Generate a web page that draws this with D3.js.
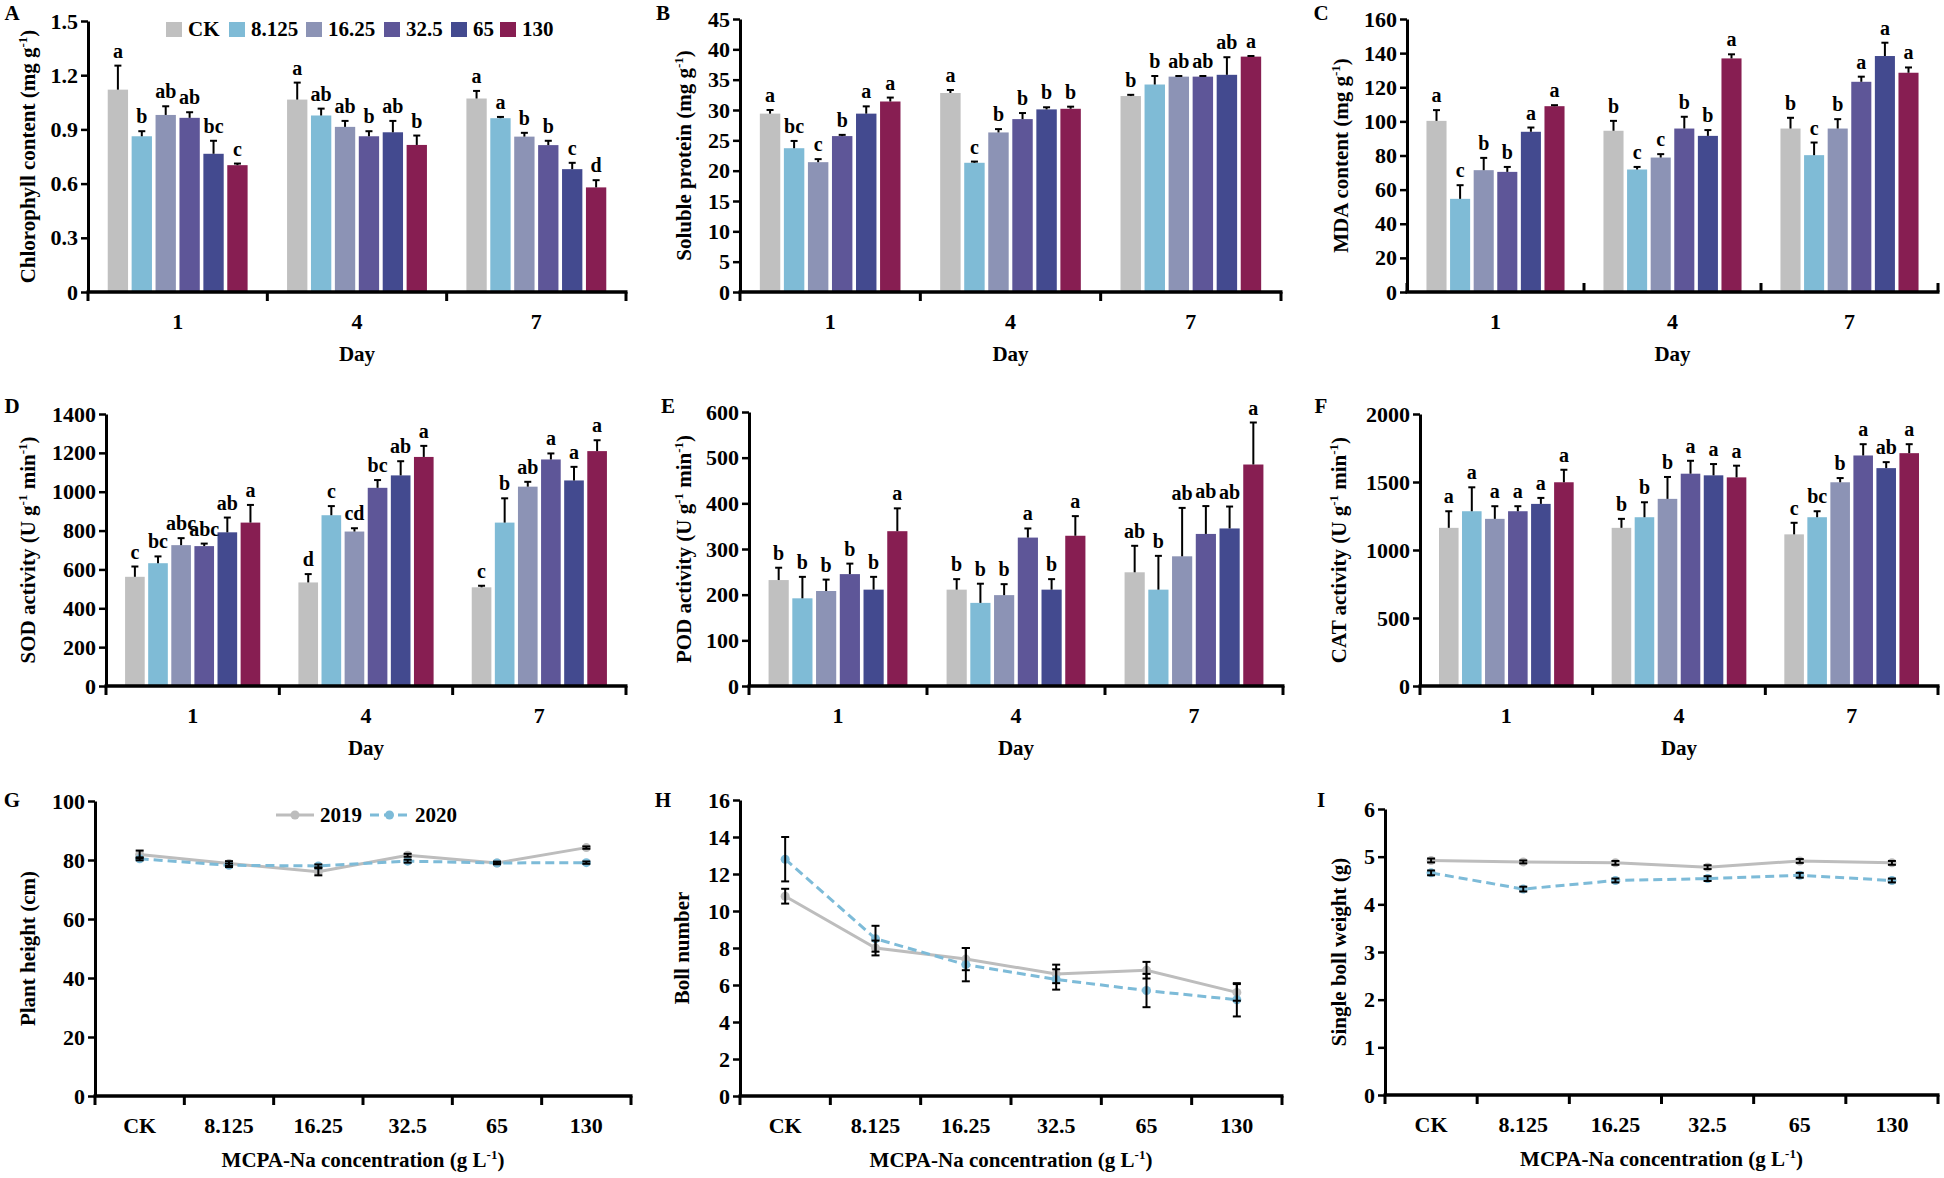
<!DOCTYPE html>
<html><head><meta charset="utf-8">
<script src="https://cdn.jsdelivr.net/npm/d3@7/dist/d3.min.js"></script>
<style>
body{margin:0;background:#fff}
svg text{font-family:"Liberation Serif","Times New Roman",serif;font-weight:bold;fill:#000}
</style></head><body>
<svg id="chart" width="1944" height="1178"></svg>
<script>
// ---------- categories ----------
const days = ["1", "4", "7"];
const treatments = ["CK", "8.125", "16.25", "32.5", "65", "130"];
const treatmentColors = ["#c0c0c0", "#7fbbd6", "#8c93b5", "#5e5698", "#434a8f", "#871e52"];
const years = ["2019", "2020"];
const yearColors = ["#bdbdbd", "#7dbbd8"];

// ---------- A: chlorophyll ----------
const chlMean = [[1.12, 0.862, 0.98, 0.964, 0.765, 0.702], [1.065, 0.977, 0.914, 0.862, 0.884, 0.814], [1.071, 0.962, 0.86, 0.813, 0.68, 0.579]];
const chlErr = [[0.133, 0.028, 0.048, 0.031, 0.072, 0.009], [0.094, 0.038, 0.033, 0.028, 0.063, 0.052], [0.042, 0.007, 0.021, 0.024, 0.035, 0.04]];
const chlSig = [["a", "b", "ab", "ab", "bc", "c"], ["a", "ab", "ab", "b", "ab", "b"], ["a", "a", "b", "b", "c", "d"]];
// ---------- B: soluble protein ----------
const proMean = [[29.4, 23.7, 21.4, 25.7, 29.4, 31.4], [32.8, 21.3, 26.3, 28.5, 30.1, 30.2], [32.3, 34.2, 35.5, 35.5, 35.8, 38.8]];
const proErr = [[0.6, 1.2, 0.5, 0.2, 1.2, 0.65], [0.5, 0.2, 0.55, 1.0, 0.35, 0.35], [0.2, 1.4, 0.1, 0.1, 2.9, 0.1]];
const proSig = [["a", "bc", "c", "b", "a", "a"], ["a", "c", "b", "b", "b", "b"], ["b", "b", "ab", "ab", "ab", "a"]];
// ---------- C: MDA ----------
const mdaMean = [[100.3, 54.6, 71.4, 70.4, 93.9, 108.9], [94.5, 71.8, 78.8, 95.8, 91.5, 136.9], [95.8, 80.2, 95.8, 123.2, 138.3, 128.5]];
const mdaErr = [[6.3, 8.0, 7.2, 2.9, 2.5, 0.6], [5.8, 1.5, 2.0, 6.9, 3.4, 2.4], [6.3, 7.4, 5.5, 3.0, 7.8, 3.1]];
const mdaSig = [["a", "c", "b", "b", "a", "a"], ["b", "c", "c", "b", "b", "a"], ["b", "c", "b", "a", "a", "a"]];
// ---------- D: SOD ----------
const sodMean = [[562, 632, 725, 720, 791, 841], [533, 879, 795, 1020, 1084, 1179], [508, 841, 1026, 1166, 1058, 1209]];
const sodErr = [[53, 35, 36, 13, 76, 91], [43, 47, 17, 40, 73, 57], [8, 125, 25, 31, 70, 56]];
const sodSig = [["c", "bc", "abc", "abc", "ab", "a"], ["d", "c", "cd", "bc", "ab", "a"], ["c", "b", "ab", "a", "a", "a"]];
// ---------- E: POD ----------
const podMean = [[232, 192, 208, 245, 211, 339], [211, 182, 199, 325, 211, 329], [249, 211, 284, 333, 345, 485]];
const podErr = [[27, 47, 25, 23, 28, 50], [23, 42, 24, 20, 23, 43], [58, 74, 106, 61, 48, 92]];
const podSig = [["b", "b", "b", "b", "b", "a"], ["b", "b", "b", "a", "b", "a"], ["ab", "b", "ab", "ab", "ab", "a"]];
// ---------- F: CAT ----------
const catMean = [[1163, 1285, 1229, 1285, 1339, 1498], [1163, 1241, 1376, 1561, 1549, 1534], [1115, 1241, 1498, 1695, 1602, 1712]];
const catErr = [[122, 176, 93, 37, 44, 92], [66, 110, 161, 95, 83, 86], [85, 44, 31, 83, 44, 66]];
const catSig = [["a", "a", "a", "a", "a", "a"], ["b", "b", "b", "a", "a", "a"], ["c", "bc", "b", "a", "ab", "a"]];
// ---------- G: plant height ----------
const height2019 = [81.9, 78.8, 76.0, 81.6, 79.0, 84.2];
const height2020 = [80.4, 78.2, 78.0, 79.6, 79.0, 79.1];
const heightErr2019 = [1.3, 0.8, 1.2, 0.5, 0.4, 0.4];
const heightErr2020 = [0.5, 0.6, 0.5, 0.5, 0.4, 0.4];
// ---------- H: boll number ----------
const boll2019 = [10.8, 8.0, 7.4, 6.6, 6.8, 5.6];
const boll2020 = [12.8, 8.5, 7.1, 6.3, 5.7, 5.2];
const bollErr2019 = [0.4, 0.4, 0.6, 0.5, 0.45, 0.45];
const bollErr2020 = [1.2, 0.7, 0.9, 0.55, 0.9, 0.9];
// ---------- I: single boll weight ----------
const weight2019 = [4.92, 4.89, 4.87, 4.78, 4.91, 4.87];
const weight2020 = [4.66, 4.32, 4.5, 4.54, 4.61, 4.5];
const weightErr2019 = [0.04, 0.03, 0.04, 0.04, 0.04, 0.04];
const weightErr2020 = [0.05, 0.05, 0.04, 0.05, 0.05, 0.04];

const svg = d3.select("#chart");
const SUP = s => ({sup: s});

function richText(sel, parts, size) {
  let shifted = false;
  parts.forEach(p => {
    if (typeof p === "string") {
      const t = sel.append("tspan").text(p);
      if (shifted) { t.attr("dy", size * 0.38); shifted = false; }
    } else {
      sel.append("tspan").text(p.sup).attr("font-size", size * 0.62).attr("dy", -size * 0.38);
      shifted = true;
    }
  });
}

function yAxis(g, y, ticks, fmt, x0) {
  const ax = g.append("g").attr("transform", `translate(${x0},0)`)
    .call(d3.axisLeft(y).tickValues(ticks).tickFormat(fmt).tickSize(7).tickSizeOuter(0).tickPadding(3));
  ax.attr("font-family", null).attr("font-size", null);
  ax.select(".domain").attr("stroke", "#000").attr("stroke-width", 3);
  ax.selectAll(".tick line").attr("stroke", "#000").attr("stroke-width", 2.5);
  ax.selectAll(".tick text").style("font-size", "22px");
}

function xAxisLine(g, x0, x1, yb, ticksX, dir) {
  g.append("line").attr("x1", x0 - 1.5).attr("x2", x1 + 1.5).attr("y1", yb).attr("y2", yb)
    .attr("stroke", "#000").attr("stroke-width", 3.5);
  g.selectAll(null).data(ticksX).join("line")
    .attr("x1", d => d).attr("x2", d => d).attr("y1", yb).attr("y2", yb + dir * 9)
    .attr("stroke", "#000").attr("stroke-width", 3);
}

function yTitleText(g, cx, cy, parts) {
  const t = g.append("text").attr("transform", `translate(${cx + 7},${cy}) rotate(-90)`)
    .attr("text-anchor", "middle").style("font-size", "21px");
  richText(t, parts, 21);
}

function panelLetter(g, x, y, s) {
  g.append("text").attr("x", x).attr("y", y).attr("text-anchor", "middle").style("font-size", "21px").text(s);
}

function drawBarPanel(p) {
  const g = svg.append("g");
  const y = d3.scaleLinear().domain([0, p.max]).range([p.yBot, p.yTop]);
  const xg = d3.scaleBand().domain(days).range([p.x0, p.x1]);
  const step = xg.bandwidth();
  const pad = step * 0.11;
  const xi = d3.scaleBand().domain(treatments).range([pad, step - pad]).paddingInner(0.15);
  const bw = xi.bandwidth();

  const rows = [];
  days.forEach((d, di) => treatments.forEach((t, ti) => rows.push({
    day: d, t, ti, v: p.means[di][ti], e: p.errs[di][ti], s: p.sig[di][ti]
  })));
  const cx = r => xg(r.day) + xi(r.t) + bw / 2;

  g.selectAll("rect.bar").data(rows).join("rect").attr("class", "bar")
    .attr("x", r => xg(r.day) + xi(r.t)).attr("width", bw)
    .attr("y", r => y(r.v)).attr("height", r => y(0) - y(r.v))
    .attr("fill", r => treatmentColors[r.ti]);
  g.selectAll("line.eb").data(rows).join("line").attr("class", "eb")
    .attr("x1", cx).attr("x2", cx).attr("y1", r => y(r.v)).attr("y2", r => y(r.v + r.e))
    .attr("stroke", "#000").attr("stroke-width", 2);
  g.selectAll("line.cap").data(rows).join("line").attr("class", "cap")
    .attr("x1", r => cx(r) - 3.5).attr("x2", r => cx(r) + 3.5)
    .attr("y1", r => y(r.v + r.e)).attr("y2", r => y(r.v + r.e))
    .attr("stroke", "#000").attr("stroke-width", 2);
  g.selectAll("text.sig").data(rows).join("text").attr("class", "sig")
    .attr("x", cx).attr("y", r => y(r.v + r.e) - 8).attr("text-anchor", "middle")
    .style("font-size", "20px").text(r => r.s);

  const ticks = d3.range(0, p.max + p.step / 2, p.step);
  yAxis(g, y, ticks, p.fmt, p.x0);
  xAxisLine(g, p.x0, p.x1, p.yBot, days.map(d => xg(d)).concat([p.x1]), p.tickDir);
  g.selectAll("text.day").data(days).join("text").attr("class", "day")
    .attr("x", d => xg(d) + step / 2).attr("y", p.yBot + 37).attr("text-anchor", "middle")
    .style("font-size", "22px").text(d => d);
  g.append("text").attr("x", (p.x0 + p.x1) / 2).attr("y", p.yBot + 69).attr("text-anchor", "middle")
    .style("font-size", "21px").text("Day");
  yTitleText(g, p.titleX, (p.yTop + p.yBot) / 2, p.title);
  panelLetter(g, p.labelX, p.labelY, p.id);

  if (p.legend) {
    const lg = g.append("g");
    const lx = [166, 229, 306, 384, 451, 500];
    treatments.forEach((t, i) => {
      lg.append("rect").attr("x", lx[i]).attr("y", 22).attr("width", 16).attr("height", 15).attr("fill", treatmentColors[i]);
      lg.append("text").attr("x", lx[i] + 22).attr("y", 36).style("font-size", "21px").text(t);
    });
  }
}

function drawLinePanel(p) {
  const g = svg.append("g");
  const y = d3.scaleLinear().domain([0, p.max]).range([p.yBot, p.yTop]);
  const xb = d3.scaleBand().domain(treatments).range([p.x0, p.x1]);
  const cxT = t => xb(t) + xb.bandwidth() / 2;
  const ticks = d3.range(0, p.max + p.step / 2, p.step);
  yAxis(g, y, ticks, d3.format("d"), p.x0);
  xAxisLine(g, p.x0, p.x1, p.yBot, treatments.map(t => xb(t)).concat([p.x1]), 1);
  g.selectAll("text.cat").data(treatments).join("text").attr("class", "cat")
    .attr("x", cxT).attr("y", p.yBot + 37).attr("text-anchor", "middle")
    .style("font-size", "22px").text(d => d);
  const xt = g.append("text").attr("x", (p.x0 + p.x1) / 2).attr("y", p.yBot + 71)
    .attr("text-anchor", "middle").style("font-size", "21px");
  richText(xt, ["MCPA-Na concentration (g L", SUP("-1"), ")"], 21);

  const series = [p.s2019, p.s2020];
  const errs = [p.e2019, p.e2020];
  const line = d3.line().x((v, i) => cxT(treatments[i])).y(v => y(v));
  series.forEach((s, k) => {
    g.append("path").datum(s).attr("d", line).attr("fill", "none")
      .attr("stroke", yearColors[k]).attr("stroke-width", 3)
      .attr("stroke-dasharray", k === 1 ? "9,5" : null);
    g.selectAll(null).data(s).join("circle")
      .attr("cx", (v, i) => cxT(treatments[i])).attr("cy", v => y(v)).attr("r", 4.5)
      .attr("fill", yearColors[k]);
  });
  series.forEach((s, k) => {
    const rows = s.map((v, i) => ({x: cxT(treatments[i]), v, e: errs[k][i]}));
    g.selectAll(null).data(rows).join("line")
      .attr("x1", r => r.x).attr("x2", r => r.x).attr("y1", r => y(r.v - r.e)).attr("y2", r => y(r.v + r.e))
      .attr("stroke", "#000").attr("stroke-width", 2);
    [-1, 1].forEach(sg => {
      g.selectAll(null).data(rows).join("line")
        .attr("x1", r => r.x - 4).attr("x2", r => r.x + 4)
        .attr("y1", r => y(r.v + sg * r.e)).attr("y2", r => y(r.v + sg * r.e))
        .attr("stroke", "#000").attr("stroke-width", 2);
    });
  });
  yTitleText(g, p.titleX, (p.yTop + p.yBot) / 2, p.title);
  panelLetter(g, p.labelX, p.labelY, p.id);

  if (p.legend) {
    const lg = g.append("g");
    const ly = 815;
    const items = [{x1: 276, x2: 314, tx: 320}, {x1: 370, x2: 409, tx: 415}];
    items.forEach((it, k) => {
      lg.append("line").attr("x1", it.x1).attr("x2", it.x2).attr("y1", ly).attr("y2", ly)
        .attr("stroke", yearColors[k]).attr("stroke-width", 3).attr("stroke-dasharray", k === 1 ? "9,5" : null);
      lg.append("circle").attr("cx", (it.x1 + it.x2) / 2).attr("cy", ly).attr("r", 4.5).attr("fill", yearColors[k]);
      lg.append("text").attr("x", it.tx).attr("y", ly + 7).style("font-size", "21px").text(years[k]);
    });
  }
}

const fmt1 = d => d === 0 ? "0" : d3.format(".1f")(d);
const fmtD = d3.format("d");

drawBarPanel({id: "A", means: chlMean, errs: chlErr, sig: chlSig, x0: 88, x1: 626, yTop: 21, yBot: 292, max: 1.5, step: 0.3, fmt: fmt1,
  title: ["Chlorophyll content (mg g", SUP("-1"), ")"], titleX: 28, labelX: 12, labelY: 20, tickDir: 1, legend: true});
drawBarPanel({id: "B", means: proMean, errs: proErr, sig: proSig, x0: 740, x1: 1281, yTop: 19, yBot: 292, max: 45, step: 5, fmt: fmtD,
  title: ["Soluble protein (mg g", SUP("-1"), ")"], titleX: 684, labelX: 663, labelY: 20, tickDir: 1});
drawBarPanel({id: "C", means: mdaMean, errs: mdaErr, sig: mdaSig, x0: 1407, x1: 1938, yTop: 19, yBot: 292, max: 160, step: 20, fmt: fmtD,
  title: ["MDA content (mg g", SUP("-1"), ")"], titleX: 1341, labelX: 1321, labelY: 20, tickDir: -1});
drawBarPanel({id: "D", means: sodMean, errs: sodErr, sig: sodSig, x0: 106, x1: 626, yTop: 414, yBot: 686, max: 1400, step: 200, fmt: fmtD,
  title: ["SOD activity (U g", SUP("-1"), " min", SUP("-1"), ")"], titleX: 28, labelX: 12, labelY: 413, tickDir: 1});
drawBarPanel({id: "E", means: podMean, errs: podErr, sig: podSig, x0: 749, x1: 1283, yTop: 412, yBot: 686, max: 600, step: 100, fmt: fmtD,
  title: ["POD activity (U g", SUP("-1"), " min", SUP("-1"), ")"], titleX: 684, labelX: 668, labelY: 413, tickDir: 1});
drawBarPanel({id: "F", means: catMean, errs: catErr, sig: catSig, x0: 1420, x1: 1938, yTop: 414, yBot: 686, max: 2000, step: 500, fmt: fmtD,
  title: ["CAT activity (U g", SUP("-1"), " min", SUP("-1"), ")"], titleX: 1339, labelX: 1321, labelY: 413, tickDir: 1});

drawLinePanel({id: "G", s2019: height2019, s2020: height2020, e2019: heightErr2019, e2020: heightErr2020,
  x0: 95, x1: 631, yTop: 801, yBot: 1096, max: 100, step: 20, title: ["Plant height (cm)"], titleX: 28, labelX: 12, labelY: 807, legend: true});
drawLinePanel({id: "H", s2019: boll2019, s2020: boll2020, e2019: bollErr2019, e2020: bollErr2020,
  x0: 740, x1: 1282, yTop: 800, yBot: 1096, max: 16, step: 2, title: ["Boll number"], titleX: 682, labelX: 663, labelY: 807});
drawLinePanel({id: "I", s2019: weight2019, s2020: weight2020, e2019: weightErr2019, e2020: weightErr2020,
  x0: 1385, x1: 1938, yTop: 809, yBot: 1095, max: 6, step: 1, title: ["Single boll weight (g)"], titleX: 1339, labelX: 1321, labelY: 807});
</script>
</body></html>
